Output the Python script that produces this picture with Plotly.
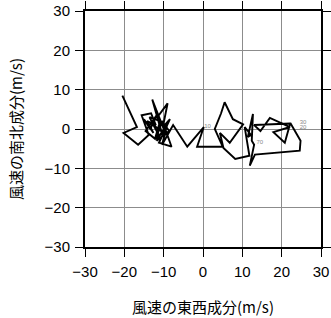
import plotly.graph_objects as go

# wind components (m/s)
u = [-20.5, -16.8, -20.2, -16.5, -13.8, -15.6, -13.2, -12.0, -14.2, -12.6,
     -15.0, -13.4, -11.8, -14.6, -12.2, -10.9, -13.6, -11.0, -12.6, -9.4,
     -10.6, -12.9, -10.2, -11.6, -9.0, -10.2, -8.4, -11.2, -8.0, -9.6,
     -12.0, -10.4, -8.6, -11.8, -9.0, -10.4, -7.6, -4.0, 0.2, -1.5,
     5.0, 3.0, 4.6, 5.5, 7.6, 10.2, 6.8, 4.3, 5.2, 8.2,
     11.8, 10.6, 12.2, 11.4, 12.7, 12.4, 13.0, 11.9, 13.2, 24.6,
     24.8, 22.2, 20.8, 17.9, 22.1, 17.0, 14.6, 13.0, 22.2]
v = [8.5, 0.5, -1.0, -4.0, -1.5, 3.5, 4.0, 1.0, 2.0, -1.0,
     2.5, 0.0, 3.5, -0.5, -2.5, 2.0, 3.0, -2.0, 1.0, -1.5,
     1.5, 7.5, -2.0, 3.0, 6.5, 0.5, 2.5, -3.5, -4.5, 0.0,
     -2.5, 2.0, -0.5, -3.0, 1.5, -4.0, 1.0, -4.5, 0.5, -4.5,
     -4.5, 0.0, 4.0, 6.8, 2.5, 1.2, -3.5, -1.0, -4.8, -7.6,
     -6.8, 0.5, -1.5, -2.0, 3.8, -3.0, -4.0, -9.3, -6.5, -5.5,
     -3.0, 1.5, -3.5, -0.8, 0.5, 2.8, -0.5, 1.0, 1.4]

label_u = [0.3, 13.6, 24.6, 24.6]
label_v = [0.6, -3.4, 1.7, 0.5]
label_text = ["10", "70", "30", "20"]

x_ticks = [-30, -20, -10, 0, 10, 20, 30]
y_ticks = [-30, -20, -10, 0, 10, 20, 30]

fig = go.Figure()
fig.add_trace(go.Scatter(x=u, y=v, mode="lines",
                         line=dict(color="black", width=1.9),
                         hoverinfo="skip", showlegend=False))
fig.add_trace(go.Scatter(x=label_u, y=label_v, mode="text", text=label_text,
                         textposition="middle right",
                         textfont=dict(size=6, color="#888888", family="Liberation Sans"),
                         hoverinfo="skip", showlegend=False))

axis_common = dict(
    range=[-30, 30], showline=True, linecolor="black", linewidth=2, mirror="ticks",
    ticks="outside", ticklen=8, tickcolor="black", tickwidth=1,
    showgrid=True, gridcolor="#8c8c8c", gridwidth=1, zeroline=False,
    automargin=False, ticklabelstandoff=2,
    tickfont=dict(family="Liberation Sans", size=15, color="black"),
)

fig.update_layout(
    width=331, height=318,
    margin=dict(l=85, r=10, t=11, b=71),
    paper_bgcolor="white", plot_bgcolor="white",
    xaxis=dict(**axis_common, tickvals=x_ticks,
               title=dict(text="風速の東西成分(m/s)", standoff=23,
                          font=dict(family="Noto Sans CJK JP", size=15, color="black"))),
    yaxis=dict(**axis_common, tickvals=y_ticks,
               title=dict(text="風速の南北成分(m/s)", standoff=18,
                          font=dict(family="Noto Sans CJK JP", size=15, color="black"))),
)
fig.write_html("out.html")
